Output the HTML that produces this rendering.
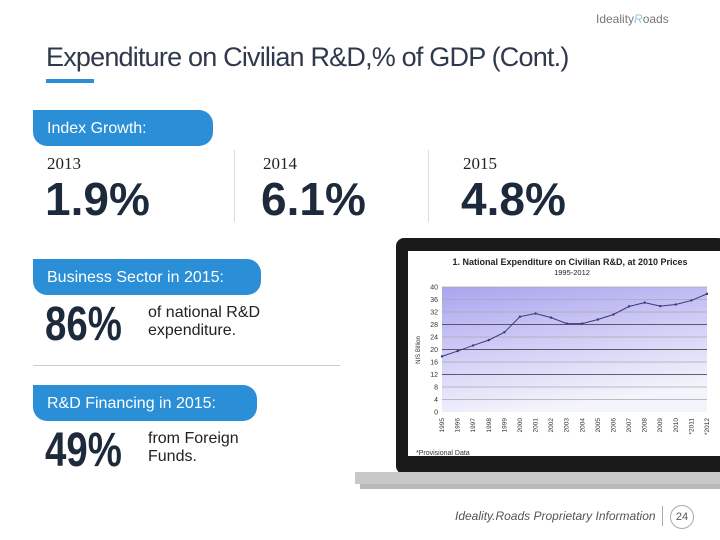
<!DOCTYPE html>
<html><head><meta charset="utf-8"><style>
body{margin:0;width:720px;height:540px;background:#fff;position:relative;overflow:hidden;font-family:"Liberation Sans",sans-serif}
.a{position:absolute}
.pill{position:absolute;background:#2b8fd8;color:#fff;font-size:16px;border-radius:0 14px 14px 14px;padding:0 14px;height:36px;line-height:38px}
.yr{position:absolute;font-family:"Liberation Serif",serif;font-size:17px;color:#222}
.big{position:absolute;font-size:46px;font-weight:bold;color:#1d2a3c}
</style></head><body>
<div class="a" style="left:596px;top:12px;font-size:12px;color:#777">Ideality<span style="color:#8cc8e0;font-style:italic">R</span>oads</div>
<div class="a" style="left:46px;top:42px;font-size:27px;color:#2e3a4c;letter-spacing:-0.8px">Expenditure on Civilian R&amp;D,% of GDP (Cont.)</div>
<div class="a" style="left:46px;top:79px;width:48px;height:4px;background:#2b8fd8"></div>
<div class="pill" style="left:33px;top:110px;width:152px">Index Growth:</div>
<div class="yr" style="left:47px;top:154px">2013</div>
<div class="yr" style="left:263px;top:154px">2014</div>
<div class="yr" style="left:463px;top:154px">2015</div>
<div class="big" style="left:45px;top:172px">1.9%</div>
<div class="big" style="left:261px;top:172px">6.1%</div>
<div class="big" style="left:461px;top:172px">4.8%</div>
<div class="a" style="left:234px;top:150px;width:1px;height:72px;background:#ddd"></div>
<div class="a" style="left:428px;top:150px;width:1px;height:72px;background:#ddd"></div>
<div class="pill" style="left:33px;top:259px;width:200px">Business Sector in 2015:</div>
<div class="big" style="left:45px;top:297px;font-size:48px;transform:scaleX(0.8);transform-origin:left">86%</div>
<div class="a" style="left:148px;top:304px;font-size:16px;color:#222;line-height:18px">of national R&amp;D<br>expenditure.</div>
<div class="a" style="left:33px;top:365px;width:307px;height:1px;background:#ccc"></div>
<div class="pill" style="left:33px;top:385px;width:196px">R&amp;D Financing in 2015:</div>
<div class="big" style="left:45px;top:423px;font-size:48px;transform:scaleX(0.8);transform-origin:left">49%</div>
<div class="a" style="left:148px;top:430px;font-size:16px;color:#222;line-height:18px">from Foreign<br>Funds.</div>
<svg class="a" style="left:0;top:0" width="720" height="540">
<defs><linearGradient id="g" x1="0" y1="0" x2="0.3" y2="1"><stop offset="0" stop-color="#aaa4f0"/><stop offset="1" stop-color="#f4f4fc"/></linearGradient></defs>
<rect x="396" y="238" width="330" height="236" rx="8" fill="#1a1a1a"/>
<rect x="408" y="251" width="320" height="205" fill="#fff"/>
<rect x="355" y="472" width="370" height="12" fill="#c8c8c8"/>
<rect x="360" y="484" width="365" height="5" fill="#888" opacity="0.6"/>
<text x="570" y="265" font-size="9" font-weight="bold" text-anchor="middle" fill="#222">1. National Expenditure on Civilian R&amp;D, at 2010 Prices</text>
<text x="572" y="275" font-size="7.5" text-anchor="middle" fill="#222">1995-2012</text>
<g id="plot"></g>
<text x="416" y="455" font-size="7" fill="#333">*Provisional Data</text>
</svg>
<div class="a" style="left:455px;top:509px;font-size:12px;font-style:italic;color:#555">Ideality.Roads Proprietary Information</div>
<div class="a" style="left:662px;top:506px;width:1px;height:20px;background:#aaa"></div>
<div class="a" style="left:670px;top:505px;width:22px;height:22px;border:1px solid #aaa;border-radius:50%;text-align:center;line-height:22px;font-size:11px;color:#555">24</div>
<script>
const years=["1995","1996","1997","1998","1999","2000","2001","2002","2003","2004","2005","2006","2007","2008","2009","2010","*2011","*2012"];
const values=[17.8,19.5,21.3,23,25.5,30.5,31.5,30.2,28.3,28.3,29.6,31.2,33.8,35,33.9,34.4,35.7,37.8];
const yTicks=[0,4,8,12,16,20,24,28,32,36,40];
const NS="http://www.w3.org/2000/svg";
const g=document.getElementById('plot');
const x0=442,x1=707,yTop=287,yBot=412;
const sx=i=>x0+i*(x1-x0)/(years.length-1);
const sy=v=>yBot-(v/40)*(yBot-yTop);
function mk(t,a){const e=document.createElementNS(NS,t);for(const k in a)e.setAttribute(k,a[k]);g.appendChild(e);return e;}
const bg=mk('rect',{x:x0,y:yTop,width:x1-x0,height:yBot-yTop,fill:'url(#g)'});


yTicks.forEach(t=>{
 if(t>0){const l=mk('line',{x1:x0,x2:x1,y1:sy(t),y2:sy(t),stroke:t%8==4&&t>=12&&t<=32?'#333':'#aaa','stroke-width':0.7});
 
 }
 const tx=mk('text',{x:x0-4,y:sy(t)+2.5,'font-size':7,'text-anchor':'end',fill:'#333'});tx.textContent=t;
 
 
});
const yl=mk('text',{x:0,y:0,'font-size':6,fill:'#333',transform:'translate(420,350) rotate(-90)','text-anchor':'middle'});yl.textContent='NIS Billion';


years.forEach((y,i)=>{
 const t=mk('text',{x:0,y:0,'font-size':6.5,fill:'#333',transform:`translate(${sx(i)+2},${yBot+6}) rotate(-90)`,'text-anchor':'end'});t.textContent=y;
 
 
});
const p=mk('polyline',{points:values.map((v,i)=>sx(i)+','+sy(v)).join(' '),fill:'none',stroke:'#3a3a7a','stroke-width':1});


values.forEach((v,i)=>{const c=mk('circle',{cx:sx(i),cy:sy(v),r:1.2,fill:'#3a3a7a'});
 
 });
</script>
</body></html>
